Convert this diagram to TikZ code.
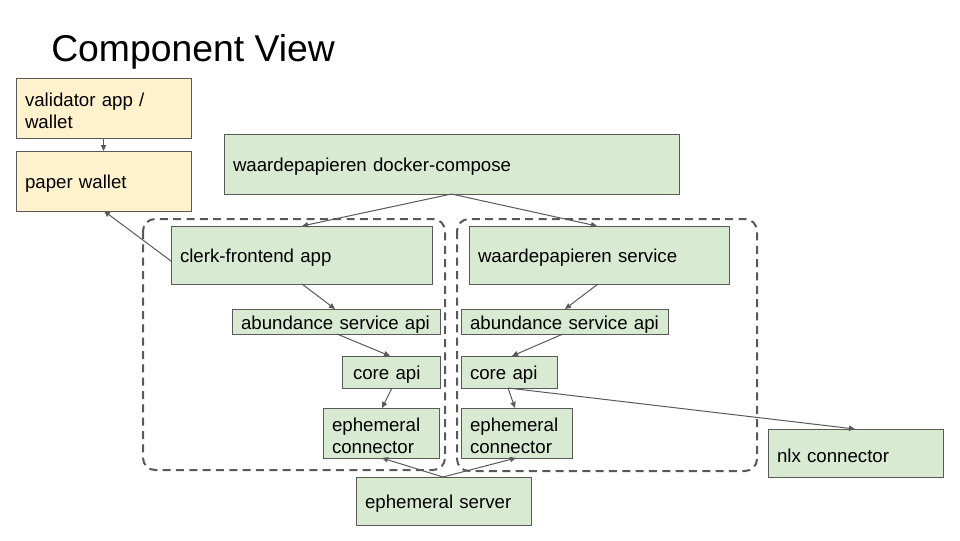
\documentclass[tikz,border=0pt]{standalone}
\usepackage{fontspec}
\setmainfont{Liberation Sans}
\usetikzlibrary{arrows.meta}
\definecolor{gfill}{HTML}{D9EAD3}
\definecolor{yfill}{HTML}{FFF2CC}
\definecolor{lgrey}{HTML}{595959}
\tikzset{
  boxbase/.style={draw=lgrey, line width=0.75pt, rectangle, inner xsep=6.75pt, inner ysep=0pt,
    outer sep=0pt, align=left, anchor=north west, font=\fontsize{14pt}{16.5pt}\selectfont, text=black,
    execute at begin node={\rule{0pt}{14.8pt}}},
  gbox/.style={boxbase, fill=gfill},
  ybox/.style={boxbase, fill=yfill},
  arr/.style={draw=lgrey, line width=0.75pt, -{Triangle[length=4.5pt,width=4pt]}},
  cont/.style={draw=lgrey, line width=1.5pt, dash pattern=on 6pt off 4pt, rounded corners=9pt},
}
\newcommand\cvbox[7]{%
  \pgfmathsetmacro\cvw{(#4-#2)*0.75-13.5}%
  \pgfmathsetmacro\cvh{(#5-#3)*0.75}%
  \node[#6, text width=\cvw pt, minimum height=\cvh pt] (#1) at (#2,#3) {#7};%
}
\begin{document}
\begin{tikzpicture}[x=0.75pt,y=-0.75pt]
\useasboundingbox (0,0) rectangle (960,540);
\node[anchor=base west, inner sep=0pt, font=\fontsize{28pt}{33pt}\selectfont] (title) at (51,61) {Component View};

\draw[cont] (143,219) rectangle (445,470);
\draw[cont] (457,219) rectangle (757,471);

\cvbox{val}{16}{78}{191}{138}{ybox}{validator app /\\wallet}
\cvbox{pw}{16}{151}{191}{211}{ybox}{paper wallet}
\cvbox{dc}{224}{134}{679}{194}{gbox}{waardepapieren docker-compose}
\cvbox{clerk}{171}{226}{432}{284}{gbox}{clerk-frontend app}
\cvbox{abL}{232}{309}{440}{334}{gbox}{\mbox{abundance service api}}
\cvbox{coreL}{342}{356}{440}{388}{gbox}{\hspace*{1.5pt}core api}
\cvbox{ecL}{323}{408}{439}{458}{gbox}{ephemeral\\connector}
\cvbox{ws}{469}{226}{729}{284}{gbox}{waardepapieren service}
\cvbox{abR}{461}{309}{668}{334}{gbox}{\mbox{abundance service api}}
\cvbox{coreR}{461}{356}{557}{388}{gbox}{core api}
\cvbox{ecR}{461}{408}{572}{458}{gbox}{ephemeral\\connector}
\cvbox{es}{356}{477}{531}{525}{gbox}{ephemeral server}
\cvbox{nlx}{768}{429}{943}{477}{gbox}{nlx connector}

\draw[arr] (val.south) -- (pw.north);
\draw[arr] (clerk.west |- 0,261) -- (pw.south -| 104,0);
\draw[arr] (dc.south) -- (clerk.north -| 302,0);
\draw[arr] (dc.south) -- (ws.north -| 597,0);
\draw[arr] (clerk.south -| 302,0) -- (abL.north -| 335,0);
\draw[arr] (abL.south -| 337,0) -- (coreL.north -| 390,0);
\draw[arr] (coreL.south -| 392,0) -- (ecL.north -| 382,0);
\draw[arr] (ws.south -| 598,0) -- (abR.north -| 565,0);
\draw[arr] (abR.south -| 563,0) -- (coreR.north -| 512,0);
\draw[arr] (coreR.south -| 508,0) -- (ecR.north -| 515,0);
\draw[arr] (coreR.south -| 508,0) -- (nlx.north -| 855,0);
\draw[arr] (es.north -| 443,0) -- (ecL.south -| 382,0);
\draw[arr] (es.north -| 443,0) -- (ecR.south -| 516,0);
\end{tikzpicture}
\end{document}
